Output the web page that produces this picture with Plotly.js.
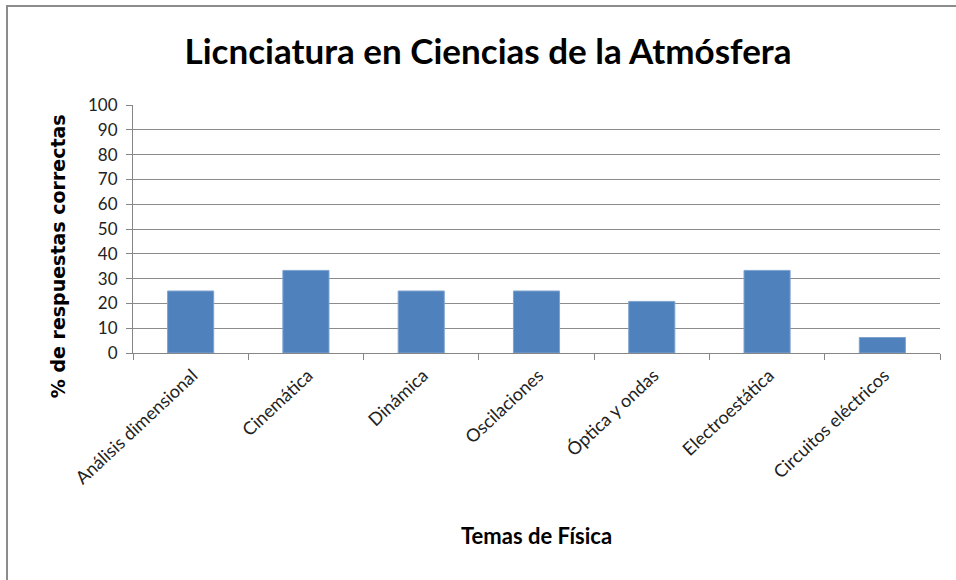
<!DOCTYPE html>
<html>
<head>
<meta charset="utf-8">
<script src="https://cdn.plot.ly/plotly-3.0.1.min.js"></script>
<style>
  html, body { margin: 0; padding: 0; background: #fff; }
  #wrap { position: relative; width: 956px; height: 580px; }
  #frame { position: absolute; left: 6px; top: 5px; right: 0; bottom: 0;
           border-top: 2px solid #8c8c8c; border-left: 2px solid #8c8c8c; pointer-events: none; }
  #chart { position: absolute; left: 0; top: 0; width: 956px; height: 580px; }
</style>
</head>
<body>
<div id="wrap">
  <div id="chart"></div>
  <div id="frame"></div>
</div>
<script>
const chartTitle = "Licnciatura en Ciencias de la Atmósfera";
const xTitle = "Temas de Física";
const yTitle = "% de respuestas correctas";
const categories = ["Análisis dimensional", "Cinemática", "Dinámica", "Oscilaciones", "Óptica y ondas", "Electroestática", "Circuitos eléctricos"];
const values = [25, 33.3, 25, 25, 20.8, 33.3, 6.25];
const yTicks = [0, 10, 20, 30, 40, 50, 60, 70, 80, 90, 100];

const trace = {
  type: "bar",
  x: categories,
  y: values,
  marker: { color: "#4f81bd", line: { color: "#7ea3d0", width: 1 } },
  hoverinfo: "x+y"
};

const layout = {
  width: 956, height: 580,
  margin: { l: 133, r: 16, t: 105, b: 227 },
  paper_bgcolor: "#ffffff",
  plot_bgcolor: "#ffffff",
  bargap: 0.6,
  showlegend: false,
  title: {
    text: "<b>" + chartTitle + "</b>",
    font: { family: "Lato, Open Sans, sans-serif", size: 35, color: "#000" },
    x: 488 / 956, xanchor: "center", xref: "container",
    y: 1 - 52 / 580, yanchor: "middle", yref: "container"
  },
  xaxis: {
    type: "category",
    tickangle: -43,
    tickson: "boundaries",
    ticks: "outside", ticklen: 6, tickcolor: "#868686",
    showline: true, linecolor: "#868686", linewidth: 1,
    showgrid: false,
    ticklabelshift: 2,
    ticklabelstandoff: 4,
    tickfont: { family: "Lato, Open Sans, sans-serif", size: 18, color: "#222" },
    automargin: false
  },
  yaxis: {
    range: [0, 100],
    tickvals: yTicks,
    ticks: "outside", ticklen: 6, tickcolor: "#868686",
    showline: true, linecolor: "#868686", linewidth: 1,
    showgrid: true, gridcolor: "#8c8c8c", gridwidth: 1,
    zeroline: false,
    ticklabelstandoff: 5,
    tickfont: { family: "Lato, Open Sans, sans-serif", size: 17, color: "#222" },
    automargin: false
  },
  annotations: [{
    text: "<b>" + yTitle + "</b>",
    textangle: -90,
    xref: "paper", yref: "paper",
    x: -0.093, y: 0.39,
    xanchor: "center", yanchor: "middle",
    showarrow: false,
    font: { family: "DejaVu Sans, sans-serif", size: 19, color: "#000" }
  }, {
    text: "<b>" + xTitle + "</b>",
    xref: "paper", yref: "paper",
    x: 0.5, y: -0.734,
    xanchor: "center", yanchor: "middle",
    showarrow: false,
    font: { family: "Lato, Open Sans, sans-serif", size: 22, color: "#000" }
  }]
};

Plotly.newPlot("chart", [trace], layout, { displayModeBar: false, staticPlot: true });
</script>
</body>
</html>
